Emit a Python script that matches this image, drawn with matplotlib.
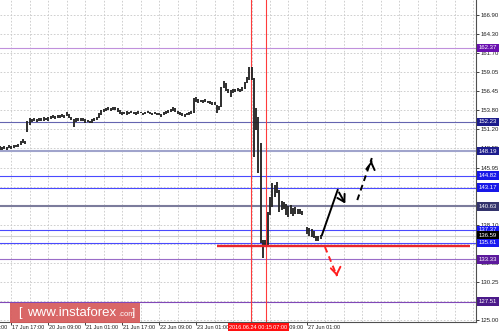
import numpy as np
import matplotlib
matplotlib.use("Agg")
import matplotlib.pyplot as plt
from matplotlib.patches import Rectangle
from matplotlib.transforms import blended_transform_factory

plt.rcParams['font.family'] = ['Liberation Sans', 'DejaVu Sans']

# H1 bars, x = hours counted from 17 Jun 17:00
bar_start = -5
bar_low = [148.4, 148.3, 148.5, 148.4, 148.6, 148.5, 148.6, 148.7, 148.8, 149.1,
           149.3, 149.2, 150.8, 151.8, 152.2, 152.3, 152.2, 152.4, 152.3, 152.4,
           152.5, 152.4, 152.6, 152.7, 152.6, 152.8, 152.7, 152.9, 152.8, 153.0,
           152.8, 152.5, 151.5, 152.2, 152.3, 152.4, 152.3, 152.1, 152.2, 152.0,
           152.1, 152.3, 152.5, 152.7, 153.2, 153.6, 153.7, 153.8, 153.7, 153.9,
           153.9, 153.6, 153.3, 153.2, 153.3, 153.2, 153.3, 153.4, 153.3, 153.2,
           153.3, 153.4, 153.2, 153.3, 153.4, 153.3, 153.2, 153.3, 153.2, 153.1,
           152.9, 153.1, 153.3, 153.4, 153.6, 153.7, 153.6, 153.3, 153.2, 153.0,
           152.9, 153.1, 153.2, 153.3, 153.5, 155.0, 154.8, 154.9, 154.8, 154.9,
           154.8, 154.7, 154.6, 154.5, 153.4, 153.8, 154.2, 156.9, 156.4, 156.2,
           155.6, 156.2, 156.3, 156.4, 156.3, 156.5, 156.8, 157.6, 158.0, 158.0,
           147.4, 151.1, 145.2, 135.6, 133.5, 135.2, 135.3, 139.4, 140.5, 141.9,
           142.4, 139.8, 140.1, 140.2, 139.4, 139.2, 139.5, 139.3, 139.6, 139.5,
           139.6, 139.4, np.nan, 136.8, 136.6, 136.4, 136.3, 135.8, 135.9, 136.1]
bar_high = [148.9, 148.8, 148.9, 148.8, 149.0, 148.9, 149.1, 149.0, 149.2, 149.6,
            149.8, 149.6, 152.3, 152.7, 152.6, 152.8, 152.6, 152.8, 152.7, 152.9,
            152.8, 152.9, 153.0, 153.1, 153.0, 153.2, 153.1, 153.3, 153.2, 153.6,
            153.3, 152.9, 152.6, 152.7, 152.8, 152.7, 152.7, 152.6, 152.5, 152.4,
            152.6, 152.7, 152.9, 153.4, 153.9, 154.0, 154.1, 154.2, 154.1, 154.2,
            154.3, 154.1, 153.8, 153.6, 153.6, 153.7, 153.6, 153.7, 153.6, 153.6,
            153.7, 153.6, 153.5, 153.6, 153.7, 153.6, 153.5, 153.6, 153.5, 153.4,
            153.3, 153.6, 153.7, 153.8, 154.0, 154.2, 154.1, 153.7, 153.6, 153.5,
            153.3, 153.5, 153.6, 153.7, 155.5, 155.6, 155.3, 155.2, 155.2, 155.3,
            155.1, 155.1, 155.0, 154.9, 154.6, 154.4, 157.0, 157.8, 157.5, 156.8,
            156.6, 156.7, 156.8, 156.9, 156.8, 157.0, 157.7, 158.4, 159.7, 159.8,
            158.2, 154.1, 152.9, 149.3, 136.0, 136.0, 139.8, 141.9, 143.8, 143.6,
            144.0, 142.9, 141.3, 141.2, 141.0, 140.6, 140.8, 140.4, 140.5, 140.3,
            140.2, 140.0, np.nan, 137.8, 137.6, 137.5, 137.2, 136.6, 136.5, 136.7]

# horizontal levels and their price tags
level_values = [162.37, 152.23, 148.19, 144.82, 143.17, 140.63, 137.37, 136.59, 135.61, 133.33, 127.51]
level_line_colors = ['#c090dc', '#6464b0', '#a0a4cc', '#4a4aff', '#4a4aff', '#7c7c9c',
                     '#4a4aff', '#d0d0d0', '#4a4aff', '#9a6cc8', '#8048b8']
level_widths = [0.8, 0.8, 1.5, 0.8, 0.8, 1.5, 0.8, 0.8, 0.8, 0.8, 0.8]
level_box_colors = ['#6a10b0', '#1c1c8c', '#1c1c8c', '#1818e8', '#1818e8', '#34346c',
                    '#1818f0', '#000000', '#1818f0', '#5c1a9c', '#4b1a8a']

support_level = 135.17
support_span = [89.0, 198.6]

ytick_values = [125.00, 127.62, 130.24, 132.86, 135.48, 138.09, 140.71, 143.33, 145.95,
                148.57, 151.19, 153.81, 156.43, 159.05, 161.67, 164.29, 166.90]
ytick_labels = ['125.00', '127.60', '130.25', '132.85', '135.45', '138.10', '140.70', '143.35', '145.95',
                '148.55', '151.20', '153.80', '156.45', '159.05', '161.70', '164.30', '166.90']

xlabel_pos = [-16, 0, 16, 32, 48, 64, 80, 96, 112, 128]
xlabel_text = ['17 Jun 01:00', '17 Jun 17:00', '20 Jun 09:00', '21 Jun 01:00', '21 Jun 17:00',
               '22 Jun 09:00', '23 Jun 01:00', '23 Jun 17:00', '24 Jun 09:00', '27 Jun 01:00']

event_pos = [103.6, 110.3]
event_text = ['2016.06.24 00:15', '2016.06.24 07:00']

# hand drawn forecast
up_path_x = [134.5, 141.3]
up_path_y = [136.68, 142.86]
up_tip = [145.2, 140.66]
dash_up_x = [149.8, 156.1]
dash_up_y = [141.48, 147.25]
dash_down_x = [135.8, 141.0]
dash_down_y = [135.03, 131.04]

fig = plt.figure(figsize=(5, 3.34), dpi=100)
ax = fig.add_axes([0, 12 / 334, 476 / 500, 322 / 334])
ax.set_xlim(-4.9, 201.2)
ax.set_ylim(124.73, 168.96)

# grid
for v in ytick_values:
    ax.axhline(v, color='#c8c8c8', lw=0.6, dashes=(2, 2), zorder=0)
for g in range(0, 201, 8):
    ax.axvline(g, color='#c8c8c8', lw=0.6, dashes=(2, 2), zorder=0)

# levels
for v, c, w in zip(level_values, level_line_colors, level_widths):
    ax.axhline(v, color=c, lw=w, zorder=1)

ax.hlines(support_level, support_span[0], support_span[1], color='#e8262b', lw=1.7, zorder=4)

for p in event_pos:
    ax.axvline(p, color='#ff3b3b', lw=0.8, zorder=2)

# price bars
bar_x = np.arange(bar_start, bar_start + len(bar_low))
ax.vlines(bar_x, bar_low, bar_high, color='#262626', lw=1.35, zorder=3)

# forecast arrows
ax.plot(up_path_x, up_path_y, color='black', lw=1.4, zorder=5)
ax.annotate('', xy=up_tip, xytext=(up_path_x[1], up_path_y[1]),
            arrowprops=dict(arrowstyle='->,head_length=0.5,head_width=0.3', color='black', lw=1.4), zorder=5)
ax.plot(dash_up_x, dash_up_y, color='black', lw=1.4, dashes=(3, 2.2), zorder=5)
ax.annotate('', xy=(dash_up_x[1], dash_up_y[1]), xytext=(dash_up_x[1] - 0.3, dash_up_y[1] - 0.8),
            arrowprops=dict(arrowstyle='->,head_length=0.5,head_width=0.3', color='black', lw=1.4), zorder=5)
ax.plot(dash_down_x, dash_down_y, color='#ff2020', lw=1.4, dashes=(3, 2.2), zorder=5)
ax.annotate('', xy=(dash_down_x[1], dash_down_y[1]), xytext=(dash_down_x[1] - 0.3, dash_down_y[1] + 0.6),
            arrowprops=dict(arrowstyle='->,head_length=0.5,head_width=0.35', color='#ff2020', lw=1.4), zorder=5)

# axes look
for s in ['top', 'left']:
    ax.spines[s].set_visible(False)
for s in ['right', 'bottom']:
    ax.spines[s].set_color('#505050')
    ax.spines[s].set_linewidth(0.8)
ax.yaxis.tick_right()
ax.set_yticks(ytick_values)
ax.set_yticklabels(ytick_labels)
ax.tick_params(axis='y', length=2, width=0.6, pad=1.5, labelsize=4.3, colors='#202020')
ax.set_xticks([p for p in xlabel_pos if p >= 0])
ax.set_xticklabels([])
ax.tick_params(axis='x', length=2, width=0.6, colors='#202020')

trans_y = blended_transform_factory(ax.transAxes, ax.transData)
for v, c in zip(level_values, level_box_colors):
    ax.text(1.006, v, f'{v:.2f}', transform=trans_y, color='white', fontsize=4.3, va='center', ha='left',
            bbox=dict(boxstyle='square,pad=0.3', fc=c, ec='none'), clip_on=False, zorder=10)

trans_x = blended_transform_factory(ax.transData, ax.transAxes)
for p, t in zip(xlabel_pos, xlabel_text):
    ax.text(p + 0.4, -0.008, t, transform=trans_x, fontsize=4.0, color='#202020', ha='left', va='top',
            clip_on=False, zorder=6)
for i in [1, 0]:
    ax.text(event_pos[i], -0.008, event_text[i], transform=trans_x, fontsize=4.0, color='white',
            ha='center', va='top', clip_on=False, zorder=8 + (1 - i),
            bbox=dict(boxstyle='square,pad=0.25', fc='#ff1010', ec='none'))

# watermark
fig.patches.append(Rectangle((10 / 500, 11 / 334), 130 / 500, 20 / 334, transform=fig.transFigure,
                             facecolor='#d65a5a', edgecolor='none', alpha=0.92, zorder=20))
fig.text(18 / 500, 21 / 334, '[', color='white', fontsize=9, va='center', ha='left', zorder=21)
fig.text(27 / 500, 21 / 334, 'www.instaforex', color='white', fontsize=9.5, va='center', ha='left', zorder=21)
fig.text(118 / 500, 19.5 / 334, '.com', color='white', fontsize=5.5, va='center', ha='left', zorder=21)
fig.text(132 / 500, 21 / 334, ']', color='white', fontsize=8, va='center', ha='left', zorder=21)

fig.savefig('out.png', dpi=100)
